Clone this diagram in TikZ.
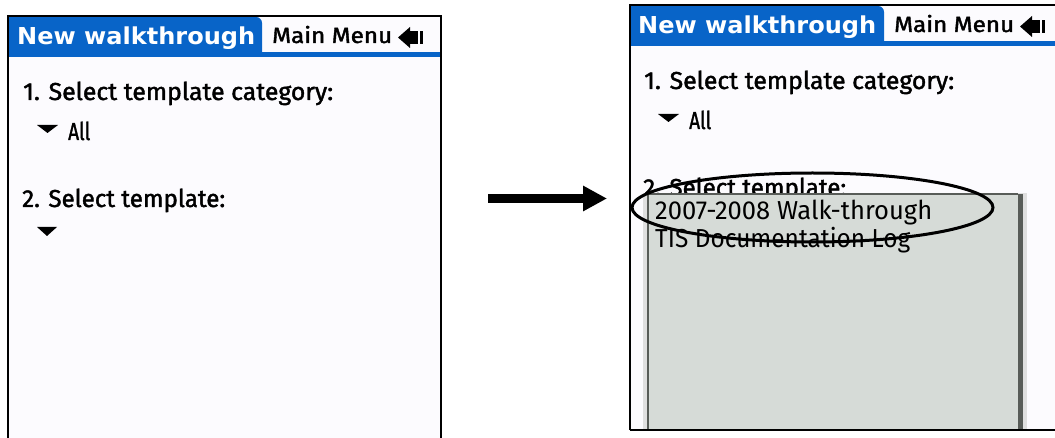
\documentclass[tikz,border=0pt]{standalone}
\usepackage{fontspec}
\usepackage{graphicx}
\usetikzlibrary{arrows.meta}
\newfontfamily\firaf{Fira Sans}
\newfontfamily\firam{Fira Sans}[FakeBold=1.6]
\newfontfamily\boldf{DejaVu Sans}[BoldFont={DejaVu Sans Bold}]
\definecolor{palmblue}{RGB}{8,100,200}
\definecolor{panelbg}{RGB}{252,251,254}
\definecolor{listfill}{RGB}{214,219,215}
\definecolor{listedge}{RGB}{88,92,88}
\newcommand\fitw[2]{\resizebox{#1}{\height}{#2}}
\tikzset{
  txt/.style={inner sep=0pt, anchor=base west},
  reg/.style={txt, font=\firam\fontsize{24.5}{26}\selectfont},
  menu/.style={txt, font=\firam\fontsize{22}{24}\selectfont},
  ttl/.style={txt, text=white, font=\boldf\bfseries\fontsize{23.3}{25}\selectfont},
  item/.style={txt, font=\firaf\fontsize{26}{28}\selectfont},
  frame/.style={line width=2.5pt, draw=black},
}
\begin{document}
\begin{tikzpicture}[x=1pt,y=1pt]
\useasboundingbox (0,0) rectangle (1055,-438);
% ---------------- left panel ----------------
\fill[panelbg] (8,-16) rectangle (441,-438);
\fill[palmblue] (9,-57) -- (9,-17) [rounded corners=6pt]-- (262,-17) [sharp corners]-- (262,-57) -- cycle;
\fill[palmblue] (262,-52) rectangle (440,-57);
\node[ttl] (ltitle) at (17,-45) {\fitw{238pt}{New walkthrough}};
\node[menu] (lmenu) at (272,-43) {\fitw{120pt}{Main Menu}};
\fill (398,-37.5) -- (410,-27) -- (410,-48) -- cycle;
\fill (409,-31) rectangle (418,-44);
\fill (420,-31) rectangle (423,-44);
\node[reg] (lcat) at (23,-100) {\fitw{310pt}{1. Select template category:}};
\fill (37,-125) -- (58,-125) -- (47.5,-133) -- cycle;
\node[reg] (lall) at (68,-140) {\fitw{22pt}{All}};
\node[reg] (ltpl) at (22,-207) {\fitw{203pt}{2. Select template:}};
\fill (37,-227) -- (57,-227) -- (47,-236) -- cycle;
\draw[frame] (8,-438) -- (8,-16) -- (441,-16) -- (441,-438);
% ---------------- right panel ----------------
\fill[panelbg] (630,-5) rectangle (1055,-430);
\fill[palmblue] (631,-46) -- (631,-6) [rounded corners=6pt]-- (884,-6) [sharp corners]-- (884,-46) -- cycle;
\fill[palmblue] (884,-41) rectangle (1055,-46);
\node[ttl] (rtitle) at (638,-34) {\fitw{238pt}{New walkthrough}};
\node[menu] (rmenu) at (894,-32) {\fitw{120pt}{Main Menu}};
\fill (1020,-26.5) -- (1032,-16) -- (1032,-37) -- cycle;
\fill (1031,-20) rectangle (1040,-33);
\fill (1042,-20) rectangle (1045,-33);
\node[reg] (rcat) at (644,-89) {\fitw{310pt}{1. Select template category:}};
\fill (658,-114) -- (679,-114) -- (668.5,-122) -- cycle;
\node[reg] (rall) at (689,-129) {\fitw{22pt}{All}};
\node[reg] (rtpl) at (643,-196) {\fitw{203pt}{2. Select template:}};
% list box
\fill[gray!25] (643,-193) rectangle (1027,-430);
\fill[listfill] (648,-194) rectangle (1020,-430);
\draw[listedge, line width=2pt] (648,-430) -- (648,-194) -- (1018,-194);
\draw[listedge, line width=5pt] (1020.5,-194) -- (1020.5,-430);
\node[item] (i1) at (655,-220) {\fitw{277pt}{2007-2008 Walk-through}};
\node[item] (i2) at (655,-248) {\fitw{255pt}{TIS Documentation Log}};
\draw[frame] (630,-430) -- (630,-5) -- (1055,-5);
\draw[frame] (630,-430) -- (1055,-430);
% highlight ellipse
\draw[line width=3pt] (812.5,-207.5) ellipse [x radius=180.5pt, y radius=34.5pt];
% ---------------- arrow ----------------
\coordinate (astart) at (488,-198.5);
\coordinate (aend) at (607,-198.5);
\draw[line width=9pt, -{Triangle[length=24pt,width=24pt]}] (astart) -- (aend);
\end{tikzpicture}
\end{document}
